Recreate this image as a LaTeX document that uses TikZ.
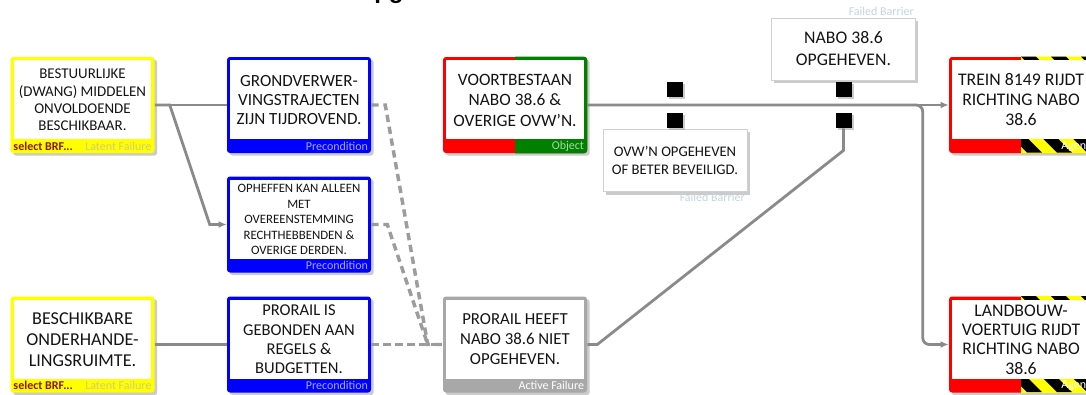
\documentclass[tikz,border=0pt]{standalone}
\usepackage{fontspec}
\setmainfont{Carlito}
\newfontfamily\titlefont{Liberation Sans}
\usetikzlibrary{calc,shadows,arrows.meta}
\definecolor{lineg}{HTML}{8A8A8A}
\definecolor{dashg}{HTML}{9C9C9C}
\definecolor{actg}{HTML}{A8A8A8}
\definecolor{bblue}{HTML}{0000FF}
\definecolor{byellow}{HTML}{FFFF00}
\definecolor{bred}{HTML}{FF0000}
\definecolor{bgreen}{HTML}{008000}
\definecolor{brfc}{HTML}{8B1500}
\definecolor{latc}{HTML}{D2CC80}
\definecolor{precc}{HTML}{A8A8FF}
\definecolor{objc}{HTML}{A8D8A8}
\definecolor{fbc}{HTML}{C4D6DE}
\definecolor{txtc}{HTML}{141414}
\definecolor{barb}{HTML}{D0D0D0}
\newcommand\boxouter[4]{\node[outer, fill=#4] (#1) at (#2,#3) {};}
\newcommand\boxinner[3]{%
  \fill[white] ($(#1.north west)+(3.5,3.5)$) rectangle ($(#1.south east)+(-3.5,-14)$);
  \node[txt, font=#2] (#1-t) at ($(#1.center)+(0,-5)$) {#3};}
\newcommand\rlabel[3]{\node[band, text=#2, anchor=east] (#1-r) at ($(#1.south east)+(-3,-7)$) {#3};}
\newcommand\llabel[3]{\node[band, text=#2, anchor=west, font=\fontsize{9}{10}\selectfont\bfseries] (#1-l) at ($(#1.south west)+(3,-7)$) {#3};}
\newcommand\hazard[1]{%
  \begin{scope}
    \clip[rounded corners=2.2pt] (#1.north west) rectangle (#1.south east);
    \clip ($(#1.north)+(0,-20)$) rectangle ($(#1.south east)+(20,20)$);
    \fill[byellow] ($(#1.north)+(0,-20)$) rectangle ($(#1.south east)+(20,20)$);
    \foreach \s in {-150,-120,...,90}
      \fill[black] ($(#1.north)+(\s,0)$) -- ++(15,0) -- ++(96,96) -- ++(-15,0) -- cycle;
  \end{scope}}
\begin{document}
\begin{tikzpicture}[x=0.75pt,y=-0.75pt,
  outer/.style={draw=none, rounded corners=2.2pt, minimum width=108pt, minimum height=72pt, inner sep=0pt,
    drop shadow={shadow xshift=2pt,shadow yshift=-2pt,fill=black!40,opacity=0.5}},
  txt/.style={align=center, text=txtc, inner sep=0pt},
  conn/.style={draw=lineg, line width=2.1pt},
  dconn/.style={draw=dashg, line width=2.6pt, dash pattern=on 5.5pt off 3.5pt},
  arr/.style={-{Latex[length=6pt,width=5pt]}},
  band/.style={font=\fontsize{9}{10}\selectfont, inner sep=0pt},
  sq/.style={fill=black, minimum width=12pt, minimum height=11.5pt, inner sep=0pt,
    drop shadow={shadow xshift=1.5pt,shadow yshift=-1.5pt,fill=black!40,opacity=0.5}},
  barrier/.style={draw=barb, fill=white, line width=0.6pt, minimum width=108pt, inner sep=0pt, align=center, text=txtc,
    drop shadow={shadow xshift=2pt,shadow yshift=-2pt,fill=black!40,opacity=0.5}},
]
\useasboundingbox (0,0) rectangle (1086,394);
\clip (0,0) rectangle (1086,394);
\fill[white] (0,0) rectangle (1086,394);

% partial title at top
\node[font=\titlefont\bfseries\fontsize{18}{20}\selectfont, anchor=base west, inner sep=0pt] (title) at (374,-2) {pg};

% left column
\boxouter{best}{82.5}{105}{byellow}
\boxinner{best}{\fontsize{11.2}{13.1}\selectfont}{BESTUURLIJKE\\(DWANG) MIDDELEN\\ONVOLDOENDE\\BESCHIKBAAR.}
\llabel{best}{brfc}{select BRF...}
\rlabel{best}{latc}{Latent Failure}

\boxouter{besch}{82.5}{344.5}{byellow}
\boxinner{besch}{\fontsize{13.6}{15.8}\selectfont}{BESCHIKBARE\\ONDERHANDE-\\LINGSRUIMTE.}
\llabel{besch}{brfc}{select BRF...}
\rlabel{besch}{latc}{Latent Failure}

% preconditions
\boxouter{grond}{299}{105}{bblue}
\boxinner{grond}{\fontsize{12.8}{14.3}\selectfont}{GRONDVERWER-\\VINGSTRAJECTEN\\ZIJN TIJDROVEND.}
\rlabel{grond}{precc}{Precondition}

\boxouter{ophef}{299}{224.5}{bblue}
\boxinner{ophef}{\fontsize{9.6}{11.6}\selectfont}{OPHEFFEN KAN ALLEEN\\MET\\OVEREENSTEMMING\\RECHTHEBBENDEN \&\\OVERIGE DERDEN.}
\rlabel{ophef}{precc}{Precondition}

\boxouter{pis}{299}{344.5}{bblue}
\boxinner{pis}{\fontsize{12.4}{14.5}\selectfont}{PRORAIL IS\\GEBONDEN AAN\\REGELS \&\\BUDGETTEN.}
\rlabel{pis}{precc}{Precondition}

% active failure
\boxouter{pheeft}{515}{344.5}{actg}
\boxinner{pheeft}{\fontsize{12.6}{15}\selectfont}{PRORAIL HEEFT\\NABO 38.6 NIET\\OPGEHEVEN.}
\rlabel{pheeft}{white}{Active Failure}

% object
\boxouter{voort}{515}{105}{bred}
\begin{scope}
  \clip[rounded corners=2.2pt] (voort.north west) rectangle (voort.south east);
  \fill[bgreen] ($(voort.north)+(0,-10)$) rectangle ($(voort.south east)+(10,10)$);
\end{scope}
\boxinner{voort}{\fontsize{13}{15.4}\selectfont}{VOORTBESTAAN\\NABO 38.6 \&\\OVERIGE OVW'N.}
\rlabel{voort}{objc}{Object}

% agents
\boxouter{trein}{1021}{105}{bred}
\hazard{trein}
\boxinner{trein}{\fontsize{13.3}{15}\selectfont}{TREIN 8149 RIJDT\\RICHTING NABO\\38.6}
\rlabel{trein}{white}{Agent}

\boxouter{landb}{1021}{344.5}{bred}
\hazard{landb}
\boxinner{landb}{\fontsize{13.3}{14.5}\selectfont}{LANDBOUW-\\VOERTUIG RIJDT\\RICHTING NABO\\38.6}
\rlabel{landb}{white}{Agent}

% failed barriers
\node[barrier, minimum height=47pt, font=\fontsize{11}{13.5}\selectfont] (ovw) at (675,160.5) {OVW'N OPGEHEVEN\\OF BETER BEVEILIGD.};
\node[band, text=fbc, anchor=east] (ovw-l) at (745,197) {Failed Barrier};
\node[barrier, minimum height=46.5pt, font=\fontsize{13.3}{16.5}\selectfont] (nabo) at (843.5,49) {NABO 38.6\\OPGEHEVEN.};
\node[band, text=fbc, anchor=east] (nabo-l) at (914,11) {Failed Barrier};

% barrier squares
\node[sq] (sqa1) at (675,89.5) {};
\node[sq] (sqa2) at (675,120.5) {};
\node[sq] (sqb1) at (843.5,89.5) {};
\node[sq] (sqb2) at (843.5,120.5) {};

% connectors
\coordinate (jn) at ($(pheeft.west)+(-15,0)$);
\draw[conn] (best.east) -- (grond.west);
\draw[conn,arr] (best.east) -- ++(15,0) -- ($(ophef.west)+(-17,0)$) -- (ophef.west);
\draw[conn] (besch.east) -- (pis.west);
\draw[dconn] (grond.east) -- ++(14,0) -- (jn) -- (pheeft.west);
\draw[dconn] (ophef.east) -- ++(16,0) -- (jn);
\draw[dconn] (pis.east) -- (jn) -- (pheeft.west);
\draw[conn,arr] (voort.east) -- (trein.west);
\draw[conn,arr,rounded corners=5pt] (voort.east) -| ($(landb.west)+(-26,0)$) -- (landb.west);
\draw[conn] (pheeft.east) -- ++(10,0) -- ($(sqb2.south)+(0,22)$) -- (sqb2.south);
\end{tikzpicture}
\end{document}
